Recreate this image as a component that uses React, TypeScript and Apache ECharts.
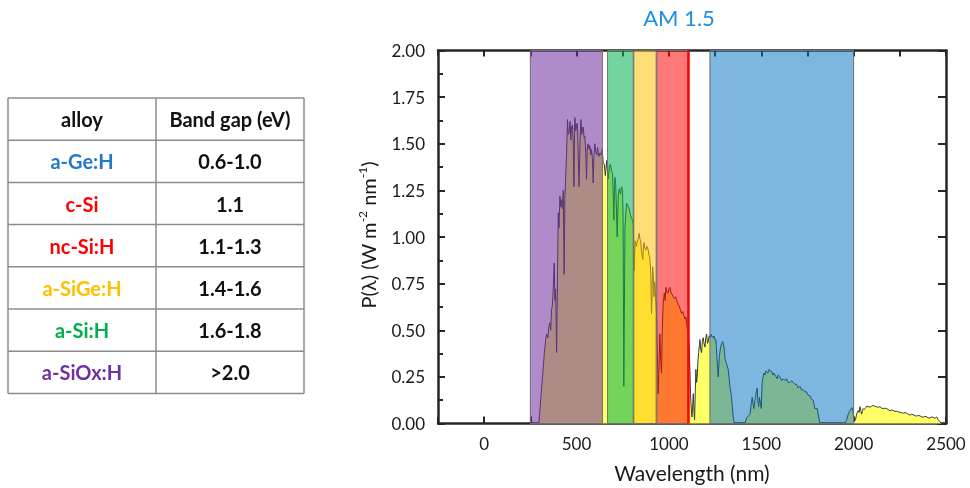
import React, { useEffect, useRef } from 'react';
import * as echarts from 'echarts';

// AM 1.5 solar spectral irradiance: wavelength (nm) and P(λ) (W m-2 nm-1)
const spectrumNm = [
  296, 326, 333, 338, 345, 350, 356, 360, 365, 370, 374, 379, 383, 387, 392, 396, 401, 405, 410, 415,
  419, 424, 428, 433, 437, 441, 446, 451, 455, 460, 465, 469, 473, 478, 482, 486, 489, 491, 496, 500,
  504, 508, 513, 517, 520, 524, 528, 532, 536, 541, 545, 550, 554, 558, 563, 568, 572, 577, 581, 586,
  590, 594, 599, 604, 609, 614, 620, 626, 632, 639, 644, 650, 656, 663, 667, 671, 678, 684, 690, 695,
  699, 702, 705, 708, 712, 716, 720, 723, 726, 732, 738, 744, 749, 752, 756, 759, 762, 766, 771, 778,
  785, 791, 798, 803, 807, 812, 815, 818, 823, 828, 833, 839, 843, 847, 852, 858, 862, 865, 870, 875,
  881, 888, 893, 897, 902, 906, 909, 912, 916, 919, 922, 924, 928, 933, 937, 942, 946, 951, 955, 960,
  964, 969, 975, 980, 984, 990, 996, 1000, 1005, 1012, 1018, 1023, 1030, 1036, 1042, 1049, 1056, 1062, 1069, 1075,
  1081, 1087, 1092, 1097, 1101, 1106, 1110, 1114, 1117, 1121, 1125, 1129, 1132, 1136, 1139, 1143, 1146, 1150, 1153, 1157,
  1161, 1165, 1168, 1172, 1177, 1181, 1186, 1190, 1195, 1200, 1204, 1209, 1213, 1218, 1222, 1227, 1231, 1237, 1244, 1249,
  1254, 1260, 1267, 1273, 1280, 1286, 1291, 1298, 1305, 1312, 1321, 1330, 1339, 1348, 1354, 1411, 1421, 1430, 1439, 1445,
  1451, 1456, 1460, 1465, 1469, 1473, 1478, 1482, 1486, 1490, 1493, 1497, 1500, 1505, 1510, 1514, 1520, 1524, 1529, 1535,
  1543, 1550, 1556, 1563, 1568, 1574, 1580, 1586, 1592, 1601, 1610, 1619, 1628, 1637, 1646, 1655, 1664, 1673, 1682, 1691,
  1700, 1709, 1718, 1727, 1736, 1745, 1754, 1763, 1772, 1781, 1786, 1790, 1796, 1803, 1810, 1817, 1952, 1962, 1971, 1982,
  1990, 1996, 2003, 2010, 2016, 2025, 2030, 2034, 2039, 2043, 2048, 2052, 2057, 2061, 2066, 2070, 2079, 2088, 2097, 2106,
  2115, 2124, 2133, 2142, 2151, 2160, 2169, 2178, 2187, 2196, 2205, 2214, 2223, 2233, 2242, 2251, 2260, 2269, 2278, 2287,
  2296, 2305, 2314, 2323, 2332, 2341, 2350, 2359, 2368, 2377, 2386, 2395, 2404, 2413, 2422, 2431, 2440, 2450, 2458, 2467,
  2476,
];
const spectrumP = [
  0, 0.38, 0.45, 0.48, 0.46, 0.52, 0.54, 0.5, 0.61, 0.64, 0.73, 0.86, 0.66, 0.72, 0.38, 0.7, 1.13, 1.05, 1.22, 1.16,
  1.2, 1.15, 1.25, 0.8, 1.22, 1.31, 1.45, 1.63, 1.55, 1.56, 1.62, 1.52, 1.59, 1.6, 1.5, 1.27, 1.55, 1.64, 1.57, 1.6,
  1.61, 1.5, 1.27, 1.42, 1.55, 1.63, 1.55, 1.58, 1.59, 1.53, 1.54, 1.45, 1.31, 1.48, 1.5, 1.47, 1.49, 1.44, 1.47, 1.42,
  1.29, 1.43, 1.5, 1.46, 1.44, 1.48, 1.43, 1.45, 1.44, 1.47, 1.4, 1.39, 1.33, 1.41, 1.37, 1.31, 1.38, 1.39, 1.35, 1.34,
  1.22, 1.09, 1.25, 1.32, 1.28, 1.15, 1.0, 1.12, 1.23, 1.26, 1.23, 1.27, 1.25, 1.1, 0.2, 0.6, 1.05, 1.12, 1.18, 1.17,
  1.15, 1.12, 1.1, 1.09, 1.07, 0.82, 0.92, 0.98, 0.95, 0.97, 0.99, 1.02, 0.99, 0.98, 0.92, 0.88, 0.94, 0.97, 0.94, 0.93,
  0.95, 0.93, 0.9, 0.89, 0.8, 0.59, 0.72, 0.84, 0.78, 0.68, 0.76, 0.75, 0.68, 0.59, 0.4, 0.16, 0.3, 0.48, 0.36, 0.27,
  0.5, 0.64, 0.7, 0.66, 0.73, 0.7, 0.7, 0.72, 0.73, 0.7, 0.69, 0.68, 0.67, 0.68, 0.66, 0.64, 0.63, 0.61, 0.59, 0.6,
  0.58, 0.56, 0.57, 0.53, 0.5, 0.45, 0.41, 0.28, 0.16, 0.08, 0.035, 0.1, 0.16, 0.06, 0.02, 0.18, 0.29, 0.22, 0.25, 0.33,
  0.38, 0.42, 0.45, 0.4, 0.38, 0.44, 0.46, 0.43, 0.41, 0.46, 0.48, 0.43, 0.44, 0.47, 0.46, 0.48, 0.47, 0.46, 0.47, 0.45,
  0.45, 0.35, 0.25, 0.36, 0.41, 0.43, 0.44, 0.41, 0.34, 0.32, 0.29, 0.2, 0.14, 0.035, 0, 0, 0.03, 0.04, 0.05, 0.1,
  0.14, 0.1, 0.08, 0.12, 0.14, 0.17, 0.19, 0.12, 0.09, 0.14, 0.14, 0.1, 0.08, 0.22, 0.25, 0.27, 0.26, 0.28, 0.28, 0.27,
  0.29, 0.28, 0.28, 0.26, 0.27, 0.26, 0.25, 0.24, 0.26, 0.25, 0.23, 0.24, 0.23, 0.24, 0.22, 0.22, 0.23, 0.22, 0.21, 0.21,
  0.19, 0.2, 0.18, 0.18, 0.17, 0.17, 0.15, 0.15, 0.13, 0.125, 0.1, 0.08, 0.08, 0.08, 0.04, 0, 0, 0.02, 0.05, 0.07,
  0.085, 0.07, 0.01, 0.02, 0.05, 0.07, 0.06, 0.09, 0.07, 0.05, 0.07, 0.08, 0.075, 0.08, 0.085, 0.093, 0.09, 0.088, 0.092, 0.098,
  0.092, 0.09, 0.087, 0.09, 0.083, 0.08, 0.082, 0.08, 0.075, 0.068, 0.072, 0.07, 0.065, 0.066, 0.062, 0.06, 0.058, 0.055, 0.058, 0.056,
  0.05, 0.045, 0.05, 0.047, 0.042, 0.04, 0.043, 0.041, 0.036, 0.034, 0.038, 0.036, 0.03, 0.03, 0.035, 0.033, 0.028, 0.035, 0.02, 0.01,
  0,
];

// Absorption windows of the alloys (nm)
const bandStartNm = [250, 668, 810, 935, 1222];
const bandEndNm = [640, 807, 931, 1103, 2000];
const bandColors = [
  'rgba(112,48,160,0.56)',
  'rgba(0,176,80,0.55)',
  'rgba(255,192,0,0.53)',
  'rgba(255,0,0,0.53)',
  'rgba(0,112,192,0.51)',
];
const cSiEdgeNm = 1105;

// Band gap table
const tableHeaders = ['alloy', 'Band gap (eV)'];
const alloys = ['a-Ge:H', 'c-Si', 'nc-Si:H', 'a-SiGe:H', 'a-Si:H', 'a-SiOx:H'];
const bandGaps = ['0.6-1.0', '1.1', '1.1-1.3', '1.4-1.6', '1.6-1.8', '>2.0'];
const alloyColors = ['#2479c6', '#ff0000', '#ff0000', '#ffc000', '#00b050', '#7030a0'];

const FONT = 'Lato, "Open Sans", sans-serif';
const AXIS_COLOR = '#262626';
const TEXT_COLOR = '#1a1a1a';

function buildTable(): any[] {
  const left = 8;
  const mid = 156;
  const right = 304;
  const top = 98;
  const rowH = 42.2;
  const rows = alloys.length + 1;
  const bottom = top + rows * rowH;
  const lineStyle = { stroke: '#8c8c8c', lineWidth: 1.5 };
  const els: any[] = [];
  for (let i = 0; i <= rows; i++) {
    const y = top + i * rowH;
    els.push({ type: 'line', shape: { x1: left, y1: y, x2: right, y2: y }, style: lineStyle });
  }
  [left, mid, right].forEach((x) => {
    els.push({ type: 'line', shape: { x1: x, y1: top, x2: x, y2: bottom }, style: lineStyle });
  });
  const c1 = (left + mid) / 2;
  const c2 = (mid + right) / 2;
  const cell = (text: string, x: number, y: number, fill: string) => ({
    type: 'text',
    x,
    y,
    style: {
      text,
      fill,
      font: `bold 20px ${FONT}`,
      align: 'center',
      verticalAlign: 'middle',
    },
  });
  els.push(cell(tableHeaders[0], c1, top + rowH / 2, '#111'));
  els.push(cell(tableHeaders[1], c2, top + rowH / 2, '#111'));
  alloys.forEach((a, i) => {
    const y = top + (i + 1.5) * rowH;
    els.push(cell(a, c1, y, alloyColors[i]));
    els.push(cell(bandGaps[i], c2, y, '#111'));
  });
  return els;
}

export default function App() {
  const ref = useRef<HTMLDivElement>(null);

  useEffect(() => {
    if (!ref.current) return;
    const chart = echarts.init(ref.current, null, { renderer: 'svg' });
    const axisLine = { show: true, onZero: false, lineStyle: { color: AXIS_COLOR, width: 2.5 } };
    const tickStyle = { color: AXIS_COLOR, width: 2 };

    chart.setOption({
      animation: false,
      grid: { left: 438, top: 50.5, width: 508, height: 373 },
      xAxis: [
        {
          type: 'value',
          position: 'bottom',
          min: -250,
          max: 2500,
          interval: 250,
          axisLine,
          axisTick: { inside: true, length: 7, lineStyle: tickStyle },
          axisLabel: {
            formatter: (v: number) => (v >= 0 && v % 500 === 0 ? String(v) : ''),
            fontSize: 17,
            fontFamily: FONT,
            color: TEXT_COLOR,
            margin: 11,
          },
          splitLine: { show: false },
          name: 'Wavelength (nm)',
          nameLocation: 'middle',
          nameGap: 38,
          nameTextStyle: { fontSize: 21, fontFamily: FONT, color: TEXT_COLOR },
        },
        {
          type: 'value',
          position: 'top',
          min: -250,
          max: 2500,
          interval: 250,
          axisLine,
          axisTick: { inside: true, length: 6, lineStyle: tickStyle },
          axisLabel: { show: false },
          splitLine: { show: false },
        },
      ],
      yAxis: [
        {
          type: 'value',
          position: 'left',
          min: 0,
          max: 2,
          interval: 0.25,
          axisLine,
          axisTick: { inside: true, length: 7, lineStyle: tickStyle },
          minorTick: { show: true, splitNumber: 2, length: 5, lineStyle: tickStyle },
          axisLabel: {
            formatter: (v: number) => v.toFixed(2),
            fontSize: 17,
            fontFamily: FONT,
            color: TEXT_COLOR,
            margin: 13,
          },
          splitLine: { show: false },
        },
        {
          type: 'value',
          position: 'right',
          min: 0,
          max: 2,
          interval: 0.25,
          axisLine,
          axisTick: { inside: true, length: 8, lineStyle: tickStyle },
          axisLabel: { show: false },
          splitLine: { show: false },
        },
      ],
      series: [
        {
          type: 'line',
          xAxisIndex: 0,
          yAxisIndex: 0,
          z: 2,
          silent: true,
          data: spectrumNm.map((x, i) => [x, spectrumP[i]]),
          showSymbol: false,
          symbol: 'none',
          lineStyle: { color: '#3a3a3a', width: 1 },
          areaStyle: { color: '#ffff66', opacity: 1 },
        },
        {
          type: 'custom',
          xAxisIndex: 0,
          yAxisIndex: 0,
          z: 3,
          silent: true,
          data: bandStartNm.map((s, i) => [s, bandEndNm[i]]),
          encode: { x: [0, 1] },
          renderItem: (params: any, api: any) => {
            const p0 = api.coord([api.value(0), 2]);
            const p1 = api.coord([api.value(1), 0]);
            return {
              type: 'rect',
              shape: { x: p0[0], y: p0[1], width: p1[0] - p0[0], height: p1[1] - p0[1] },
              style: { fill: bandColors[params.dataIndex], stroke: '#6e6e6e', lineWidth: 1 },
            };
          },
          markLine: {
            silent: true,
            symbol: 'none',
            label: { show: false },
            lineStyle: { color: '#ff0000', width: 2.5, type: 'solid' },
            data: [{ xAxis: cSiEdgeNm }],
          },
        },
      ],
      graphic: [
        {
          type: 'text',
          x: 679,
          y: 17,
          style: {
            text: 'AM 1.5',
            fill: '#1e8fe1',
            font: `22px ${FONT}`,
            align: 'center',
            verticalAlign: 'middle',
          },
        },
        {
          type: 'text',
          x: 368,
          y: 235,
          rotation: Math.PI / 2,
          style: {
            text: 'P(λ) (W m{sup|-2} nm{sup|-1})',
            fill: TEXT_COLOR,
            fontSize: 20,
            fontFamily: FONT,
            lineHeight: 24,
            align: 'center',
            verticalAlign: 'middle',
            rich: {
              sup: { fontSize: 12, fontFamily: FONT, fill: TEXT_COLOR, verticalAlign: 'top', lineHeight: 24 },
            },
          },
        },
        ...buildTable(),
      ],
    });

    return () => chart.dispose();
  }, []);

  return <div ref={ref} style={{ position: 'fixed', left: 0, top: 0, width: 970, height: 488 }} />;
}
